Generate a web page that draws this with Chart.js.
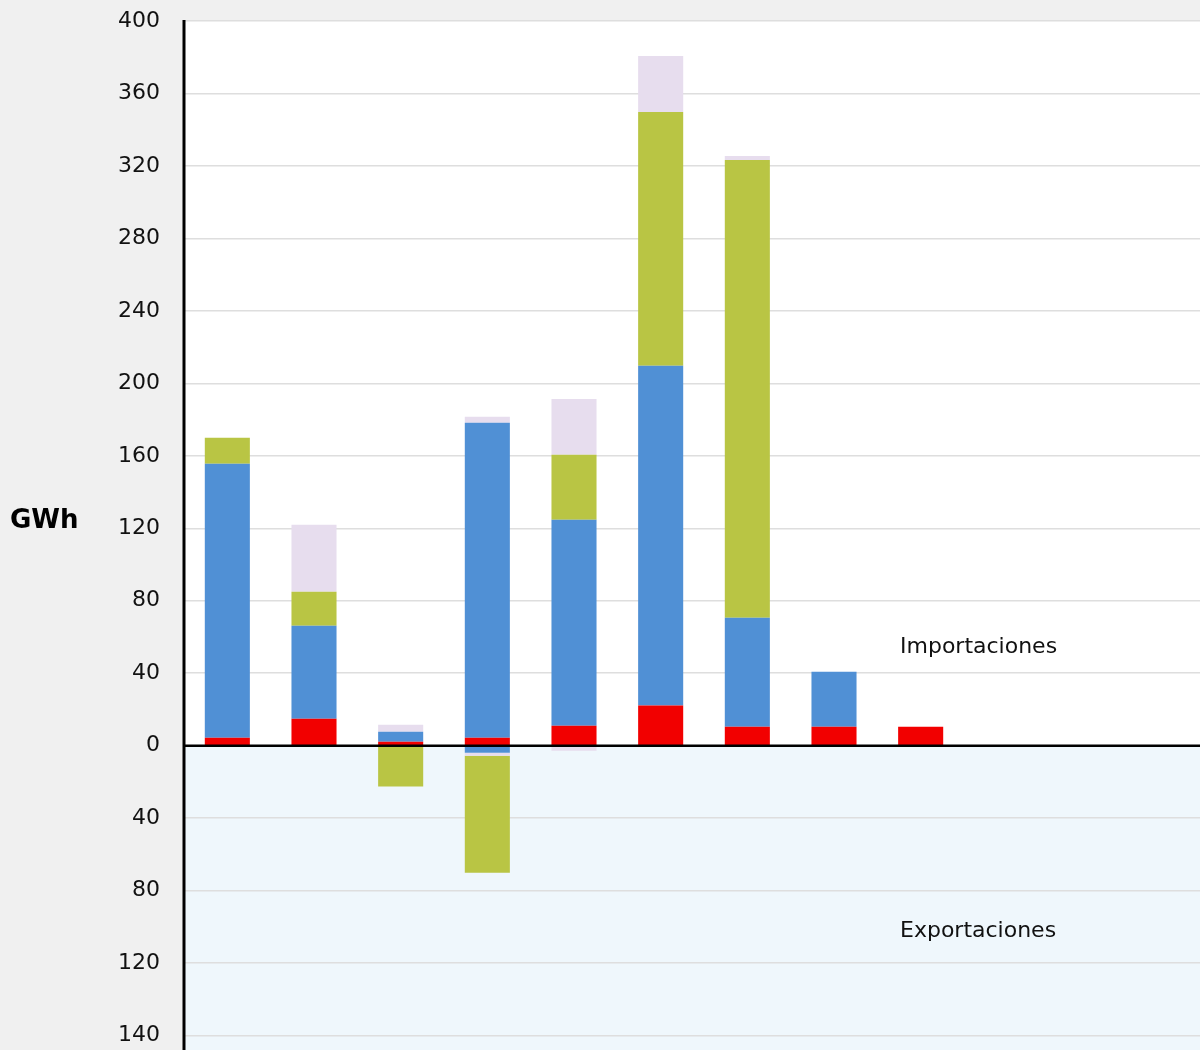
<!DOCTYPE html>
<html lang="es">
<head>
  <meta charset="UTF-8" />
  <title>Importaciones / Exportaciones GWh</title>
  <script src="https://cdn.jsdelivr.net/npm/chart.js"></script>
  <style>
    html, body {
      margin: 0;
      padding: 0;
      background: #f0f0f0;
      overflow: hidden;
    }
    .wrap {
      width: 1224px;
      height: 1050px;
    }
  </style>
</head>
<body>
  <div class="wrap">
    <canvas id="balanceChart"></canvas>
  </div>

  <script>
    const periods = ['1', '2', '3', '4', '5', '6', '7', '8', '9', '10', '11', '12'];

    // importaciones (GWh)
    const impRed      = [4.4, 14.9, 2.2, 4.4, 11.0, 22.1, 10.5, 10.5, 10.5, null, null, null];
    const impBlue     = [151.2, 51.3, 5.5, 173.8, 113.7, 187.6, 60.1, 30.3, null, null, null, null];
    const impGreen    = [14.3, 18.8, null, null, 35.9, 140.1, 252.7, null, null, null, null, null];
    const impLavender = [null, 36.9, 3.9, 3.3, 30.8, 30.9, 2.2, null, null, null, null, null];

    // exportaciones (GWh, negativas)
    const expBlue     = [null, null, null, -3.9, null, null, null, null, null, null, null, null];
    const expLavender = [null, null, null, -1.7, -2.8, null, null, null, null, null, null, null];
    const expGreen    = [null, null, -22.6, -64.6, null, null, null, null, null, null, null, null];

    const tickValues = [400, 360, 320, 280, 240, 200, 160, 120, 80, 40, 0, -40, -80, -120, -160];
    const tickLabels = ['400', '360', '320', '280', '240', '200', '160', '120', '80', '40', '0', '40', '80', '120', '140'];

    const RED = '#f20000';
    const BLUE = '#5090d5';
    const GREEN = '#b9c544';
    const LAVENDER = '#e7ddee';

    const bgPlugin = {
      id: 'bgPlugin',
      beforeDraw(chart) {
        const { ctx, chartArea, scales } = chart;
        const zeroY = scales.y.getPixelForValue(0);
        ctx.save();
        ctx.fillStyle = '#f0f0f0';
        ctx.fillRect(0, 0, chart.width, chart.height);
        ctx.fillStyle = '#ffffff';
        ctx.fillRect(chartArea.left, chartArea.top, chartArea.right - chartArea.left, zeroY - chartArea.top);
        ctx.fillStyle = '#eff7fc';
        ctx.fillRect(chartArea.left, zeroY, chartArea.right - chartArea.left, chart.height - zeroY);
        ctx.restore();
      },
      afterDatasetsDraw(chart) {
        const { ctx, chartArea, scales } = chart;
        const zeroY = scales.y.getPixelForValue(0);
        ctx.save();
        ctx.strokeStyle = '#000';
        ctx.lineWidth = 2.5;
        ctx.beginPath();
        ctx.moveTo(chartArea.left, zeroY);
        ctx.lineTo(chartArea.right, zeroY);
        ctx.stroke();
        ctx.lineWidth = 3;
        ctx.beginPath();
        ctx.moveTo(chartArea.left, chartArea.top - 1);
        ctx.lineTo(chartArea.left, chart.height);
        ctx.stroke();

        ctx.fillStyle = '#000';
        ctx.font = 'bold 26px "DejaVu Sans"';
        ctx.textBaseline = 'middle';
        ctx.textAlign = 'left';
        ctx.fillText('GWh', 10, 521);

        ctx.font = '22px "DejaVu Sans"';
        ctx.fillStyle = '#111';
        ctx.fillText('Importaciones', 900, 647);
        ctx.fillText('Exportaciones', 900, 931);
        ctx.restore();
      }
    };

    function ds(label, data, color) {
      return { label: label, data: data, backgroundColor: color, stack: 'a', borderWidth: 0 };
    }

    new Chart('balanceChart', {
      type: 'bar',
      data: {
        labels: periods,
        datasets: [
          ds('imp red', impRed, RED),
          ds('imp blue', impBlue, BLUE),
          ds('imp green', impGreen, GREEN),
          ds('imp lavender', impLavender, LAVENDER),
          ds('exp blue', expBlue, BLUE),
          ds('exp lavender', expLavender, LAVENDER),
          ds('exp green', expGreen, GREEN)
        ]
      },
      options: {
        responsive: true,
        maintainAspectRatio: false,
        animation: false,
        layout: { padding: { top: 21, left: 0, right: 0, bottom: 0 } },
        datasets: { bar: { barPercentage: 0.52, categoryPercentage: 1 } },
        plugins: {
          legend: { display: false },
          tooltip: { enabled: false }
        },
        scales: {
          x: {
            display: false,
            stacked: true
          },
          y: {
            stacked: true,
            min: -168,
            max: 400,
            border: { display: false },
            grid: { color: '#dedede', lineWidth: 1.5, drawTicks: false },
            afterBuildTicks(scale) {
              scale.ticks = tickValues.map(v => ({ value: v }));
            },
            afterFit(scale) {
              scale.width = 184;
              scale.paddingTop = 0;
              scale.paddingBottom = 0;
            },
            ticks: {
              padding: 24,
              color: '#111',
              font: { family: 'DejaVu Sans', size: 22 },
              callback(value) {
                const i = tickValues.indexOf(value);
                return i >= 0 ? tickLabels[i] : '';
              }
            }
          }
        }
      },
      plugins: [bgPlugin]
    });
  </script>
</body>
</html>
